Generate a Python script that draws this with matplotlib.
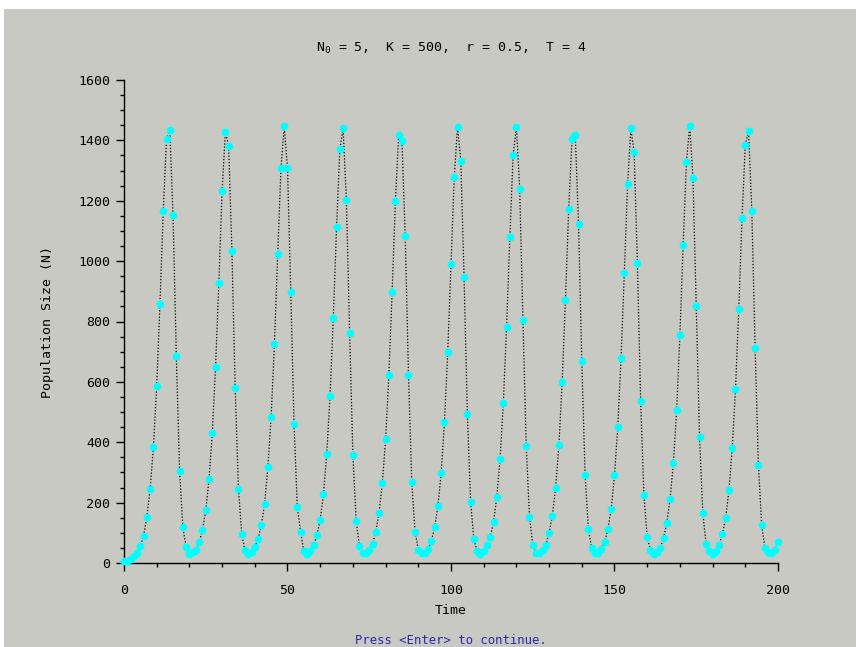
import matplotlib.pyplot as plt
from matplotlib.patches import Rectangle
from matplotlib.ticker import MultipleLocator

# delayed logistic run: N0 = 5, K = 500, r = 0.5, T = 4
time = list(range(201))
population = [
    5, 8, 14, 22, 33, 55, 91, 153, 246, 384,
    587, 858, 1165, 1406, 1434, 1152, 685, 305, 118, 52,
    31, 37, 42, 69, 109, 175, 277, 429, 650, 929,
    1231, 1429, 1381, 1035, 579, 246, 96, 42, 31, 35,
    52, 78, 126, 197, 317, 485, 725, 1023, 1307, 1447,
    1307, 899, 460, 185, 103, 39, 31, 39, 58, 92,
    144, 227, 362, 553, 810, 1112, 1370, 1440, 1204, 761,
    358, 140, 55, 33, 33, 42, 64, 104, 166, 264,
    410, 623, 899, 1200, 1417, 1399, 1084, 623, 268, 104,
    44, 33, 33, 47, 73, 118, 189, 299, 467, 700,
    991, 1279, 1445, 1332, 947, 495, 202, 78, 39, 31,
    41, 58, 86, 136, 219, 343, 530, 783, 1080, 1351,
    1445, 1240, 806, 388, 153, 61, 33, 33, 42, 61,
    100, 157, 250, 391, 601, 872, 1174, 1404, 1417, 1124,
    668, 293, 114, 50, 33, 33, 47, 69, 114, 180,
    291, 451, 678, 961, 1254, 1440, 1360, 993, 535, 224,
    86, 42, 31, 38, 50, 83, 132, 213, 330, 507,
    756, 1055, 1329, 1447, 1276, 850, 419, 166, 64, 39,
    31, 39, 61, 96, 150, 241, 380, 575, 841, 1143,
    1386, 1431, 1165, 713, 326, 127, 50, 36, 33, 42,
    68,
]

plt.rcParams['font.family'] = ['DejaVu Sans Mono']
plt.rcParams['font.size'] = 9.5
plt.rcParams['mathtext.fontset'] = 'custom'
plt.rcParams['mathtext.rm'] = 'DejaVu Sans Mono'
plt.rcParams['mathtext.it'] = 'DejaVu Sans Mono'
plt.rcParams['mathtext.default'] = 'rm'

W, H = 856, 647
bg = '#c9c9c3'

fig = plt.figure(figsize=(W / 100, H / 100), dpi=100, facecolor='white')
fig.patches.append(Rectangle((4 / W, 0), 1 - 4 / W, 1 - 9 / H, transform=fig.transFigure,
                             facecolor=bg, edgecolor='none', zorder=-10))

ax = fig.add_axes([124 / W, 1 - 563 / H, (778 - 124) / W, (563 - 80) / H])
ax.set_facecolor(bg)

ax.plot(time, population, color='black', linestyle=(0, (1, 1.5)), linewidth=0.9,
        zorder=2, clip_on=False)
ax.plot(time, population, linestyle='none', marker='o', markersize=4.6,
        color='#00ffff', markeredgecolor='#00ffff', zorder=3, clip_on=False)

ax.set_xlim(0, 200)
ax.set_ylim(0, 1600)
ax.xaxis.set_major_locator(MultipleLocator(50))
ax.xaxis.set_minor_locator(MultipleLocator(10))
ax.yaxis.set_major_locator(MultipleLocator(200))
ax.yaxis.set_minor_locator(MultipleLocator(50))
ax.tick_params(which='major', length=6, width=1, direction='out', labelsize=9.5)
ax.tick_params(which='minor', length=3, width=1, direction='out')
ax.tick_params(axis='x', which='major', pad=9)
ax.tick_params(axis='y', which='major', pad=4)

for side in ('top', 'right'):
    ax.spines[side].set_visible(False)
for side in ('left', 'bottom'):
    ax.spines[side].set_linewidth(1)
    ax.spines[side].set_color('black')

fig.text(451 / W, 1 - 48 / H, r'$N_0$ = 5,  K = 500,  r = 0.5,  T = 4',
         ha='center', va='center', fontsize=9.5)
fig.text(451 / W, 1 - 610 / H, 'Time', ha='center', va='center', fontsize=9.5)
fig.text(48 / W, 1 - 322 / H, 'Population Size (N)', ha='center', va='center',
         rotation=90, fontsize=9.5)
fig.text(451 / W, 1 - 641 / H, 'Press <Enter> to continue.', ha='center', va='center',
         color='#2a2aa8', fontsize=8.8)

fig.savefig('out.png', dpi=100, facecolor=fig.get_facecolor())
